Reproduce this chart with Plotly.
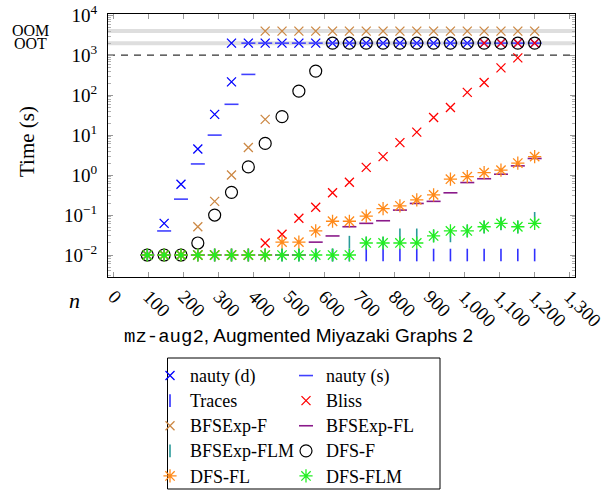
import plotly.graph_objects as go

# ---------------- data ----------------
OOM = 4000      # out of memory marker value
OOT = 2000      # out of time marker value
TIMEOUT = 1000  # time limit (dashed line)

n = [96, 144, 192, 240, 288, 336, 384, 432, 480, 528, 576, 624,
     672, 720, 768, 816, 864, 912, 960, 1008, 1056, 1104, 1152, 1200]

x_ticks = [0, 100, 200, 300, 400, 500, 600, 700, 800, 900, 1000, 1100, 1200, 1300]
x_ticktext = ["0", "100", "200", "300", "400", "500", "600", "700", "800", "900",
              "1,000", "1,100", "1,200", "1,300"]
y_ticks = [1e-2, 1e-1, 1e0, 1e1, 1e2, 1e3, 1e4]
y_ticktext = ["10<sup>−2</sup>", "10<sup>−1</sup>", "10<sup>0</sup>", "10<sup>1</sup>",
              "10<sup>2</sup>", "10<sup>3</sup>", "10<sup>4</sup>"]

# finite running times (s), aligned with n from the start
t_nauty_d = [0.01, 0.062, 0.59, 4.5, 33, 215]
oot_nauty_d = [336, 384, 432, 480, 528, 576, 624, 672, 720, 768, 816, 864, 912, 960,
               1008, 1056, 1104, 1152, 1200]

t_nauty_s = [0.01, 0.04, 0.25, 1.9, 10, 59, 330]
oot_nauty_s = [384, 432, 480, 528, 576, 624, 672, 720, 768, 816, 864, 912, 960,
               1008, 1056, 1104, 1152, 1200]

t_traces = [0.01] * 24

t_bliss = [0.01, 0.01, 0.01, 0.01, 0.01, 0.01, 0.01, 0.02, 0.033, 0.083, 0.156, 0.36,
           0.66, 1.56, 2.9, 6.5, 11.9, 27.5, 49, 117, 208, 480, 855]
oot_bliss = [1056, 1104, 1152, 1200]

t_bfsexp_f = [0.01, 0.01, 0.01, 0.051, 0.22, 1.0, 4.9, 24.7]
oom_bfsexp_f = [432, 480, 528, 576, 624, 672, 720, 768, 816, 864, 912, 960,
                1008, 1056, 1104, 1152, 1200]

t_bfsexp_fl = [0.01, 0.01, 0.01, 0.01, 0.01, 0.01, 0.01, 0.01, 0.01, 0.01, 0.021, 0.03,
               0.051, 0.062, 0.072, 0.133, 0.195, 0.22, 0.36, 0.65, 0.81, 1.05, 1.7, 2.6]

t_bfsexp_flm = [0.01, 0.01, 0.01, 0.01, 0.01, 0.01, 0.01, 0.01, 0.01, 0.01, 0.01, 0.01,
                0.021, 0.02, 0.02, 0.032, 0.032, 0.03, 0.03, 0.04, 0.05, 0.06, 0.05, 0.083]

t_dfs_f = [0.01, 0.01, 0.01, 0.02, 0.10, 0.37, 1.6, 6.2, 29, 126, 400]
oot_dfs_f = [624, 672, 720, 768, 816, 864, 912, 960, 1008, 1056, 1104, 1152, 1200]

t_dfs_fl = [0.01, 0.01, 0.01, 0.01, 0.01, 0.01, 0.01, 0.01, 0.021, 0.021, 0.04, 0.07,
            0.07, 0.094, 0.145, 0.17, 0.24, 0.32, 0.79, 0.91, 1.15, 1.33, 2.0, 2.9]

t_dfs_flm = [0.01, 0.01, 0.01, 0.01, 0.01, 0.01, 0.01, 0.01, 0.01, 0.01, 0.01, 0.01,
             0.01, 0.02, 0.02, 0.02, 0.02, 0.03, 0.04, 0.04, 0.051, 0.062, 0.051, 0.062]

# ---------------- layout geometry ----------------
W, H = 605, 490
L, R, T, B = 108, 30, 14, 213
PW, PH = W - L - R, H - T - B

def pxx(px):
    return (px - L) / PW

def pxy(py):
    return (H - B - py) / PH

SERIF = "Liberation Serif"
LEGFS = 17

def lname(s):
    return '<span style="font-size:18px">' + s + '</span>'

series = [
    # name, times, fail list, fail value, symbol, color, size, width, legend
    ("nauty (d)", t_nauty_d, oot_nauty_d, OOT, "x-thin", "#0000ff", 9, 1.3, "legend"),
    ("nauty (s)", t_nauty_s, oot_nauty_s, OOT, "line-ew", "#4040ff", 10, 1.6, "legend2"),
    ("Traces", t_traces, [], OOT, "line-ns", "#3030ff", 9, 1.6, "legend"),
    ("Bliss", t_bliss, oot_bliss, OOT, "x-thin", "#ff0000", 9, 1.3, "legend2"),
    ("BFSExp-F", t_bfsexp_f, oom_bfsexp_f, OOM, "x-thin", "#cc8844", 9, 1.3, "legend"),
    ("BFSExp-FL", t_bfsexp_fl, [], OOT, "line-ew", "#8a1a8a", 10, 1.6, "legend2"),
    ("BFSExp-FLM", t_bfsexp_flm, [], OOT, "line-ns", "#2a9a9a", 9, 1.6, "legend"),
    ("DFS-F", t_dfs_f, oot_dfs_f, OOT, "circle-open", "#000000", 12, 1.2, "legend2"),
    ("DFS-FL", t_dfs_fl, [], OOT, "asterisk-open", "#ff8a1a", 11, 1.3, "legend"),
    ("DFS-FLM", t_dfs_flm, [], OOT, "asterisk-open", "#22ee22", 11, 1.3, "legend2"),
]

fig = go.Figure()
for name, times, fails, fv, sym, col, size, lw, leg in series:
    xs = n[:len(times)] + fails
    ys = list(times) + [fv] * len(fails)
    fig.add_trace(go.Scatter(
        x=xs, y=ys, mode="markers", name=lname(name), legend=leg,
        marker=dict(symbol=sym, size=size, color=col,
                    line=dict(color=col, width=lw)),
        cliponaxis=False,
    ))

minor_vals = []
for e in range(-3, 4):
    for k in range(2, 10):
        v = k * 10 ** e
        if 10 ** -2.55 <= v <= 10 ** 4.03:
            minor_vals.append(v)

shapes = [
    dict(type="line", xref="paper", yref="y", x0=0, x1=1, y0=OOM, y1=OOM,
         line=dict(color="#dedede", width=4), layer="below"),
    dict(type="line", xref="paper", yref="y", x0=0, x1=1, y0=OOT, y1=OOT,
         line=dict(color="#dedede", width=4), layer="below"),
    dict(type="line", xref="paper", yref="y", x0=0, x1=1, y0=TIMEOUT, y1=TIMEOUT,
         line=dict(color="#333333", width=1.2, dash="7px,6px"), layer="below"),
    # legend frame
    dict(type="rect", xref="paper", yref="paper", x0=pxx(167.5), x1=pxx(440),
         y0=pxy(489), y1=pxy(358), line=dict(color="black", width=1)),
]

annotations = [
    dict(text="OOM", xref="paper", yref="y", x=pxx(30), y=3.62, showarrow=False,
         font=dict(family=SERIF, size=16), xanchor="center", yanchor="middle"),
    dict(text="OOT", xref="paper", yref="y", x=pxx(30), y=3.30, showarrow=False,
         font=dict(family=SERIF, size=16), xanchor="center", yanchor="middle"),
    dict(text="Time (s)", xref="paper", yref="paper", x=pxx(27), y=pxy(142),
         textangle=-90, showarrow=False, font=dict(family=SERIF, size=21),
         xanchor="center", yanchor="middle"),
    dict(text="<i>n</i>", xref="paper", yref="paper", x=pxx(74), y=pxy(300),
         showarrow=False, font=dict(family=SERIF, size=22),
         xanchor="center", yanchor="middle"),
    dict(text='<span style="font-family:Liberation Mono">mz-aug2</span>, Augmented Miyazaki Graphs 2',
         xref="paper", yref="paper", x=pxx(298), y=pxy(336), showarrow=False,
         font=dict(family="Liberation Sans", size=19), xanchor="center", yanchor="middle"),
]

fig.update_layout(
    width=W, height=H,
    margin=dict(l=L, r=R, t=T, b=B, autoexpand=False),
    paper_bgcolor="white", plot_bgcolor="white",
    font=dict(family=SERIF, color="black"),
    showlegend=True,
    legend=dict(x=pxx(150), y=pxy(358), xanchor="left", yanchor="top",
                bgcolor="rgba(0,0,0,0)", borderwidth=0,
                font=dict(family=SERIF, size=LEGFS), tracegroupgap=0),
    legend2=dict(x=pxx(286), y=pxy(358), xanchor="left", yanchor="top",
                 bgcolor="rgba(0,0,0,0)", borderwidth=0,
                 font=dict(family=SERIF, size=LEGFS), tracegroupgap=0),
    shapes=shapes,
    annotations=annotations,
    xaxis=dict(range=[-16, 1315], tickvals=x_ticks, ticktext=x_ticktext,
               tickangle=45, ticks="inside", ticklen=5, tickcolor="#999999",
               showline=True, linecolor="black", linewidth=1, mirror="allticks",
               showgrid=False, zeroline=False, ticklabeloverflow="allow",
               tickfont=dict(family=SERIF, size=19)),
    yaxis=dict(type="log", range=[-2.55, 4.03], tickvals=y_ticks, ticktext=y_ticktext,
               ticks="inside", ticklen=5, tickcolor="#999999",
               showline=True, linecolor="black", linewidth=1, mirror="allticks",
               showgrid=False, zeroline=False, ticklabelstandoff=6,
               tickfont=dict(family=SERIF, size=19),
               minor=dict(tickmode="array", tickvals=minor_vals, ticks="inside",
                          ticklen=3, tickcolor="#b0b0b0", showgrid=False)),
)

fig.write_html("out.html")
